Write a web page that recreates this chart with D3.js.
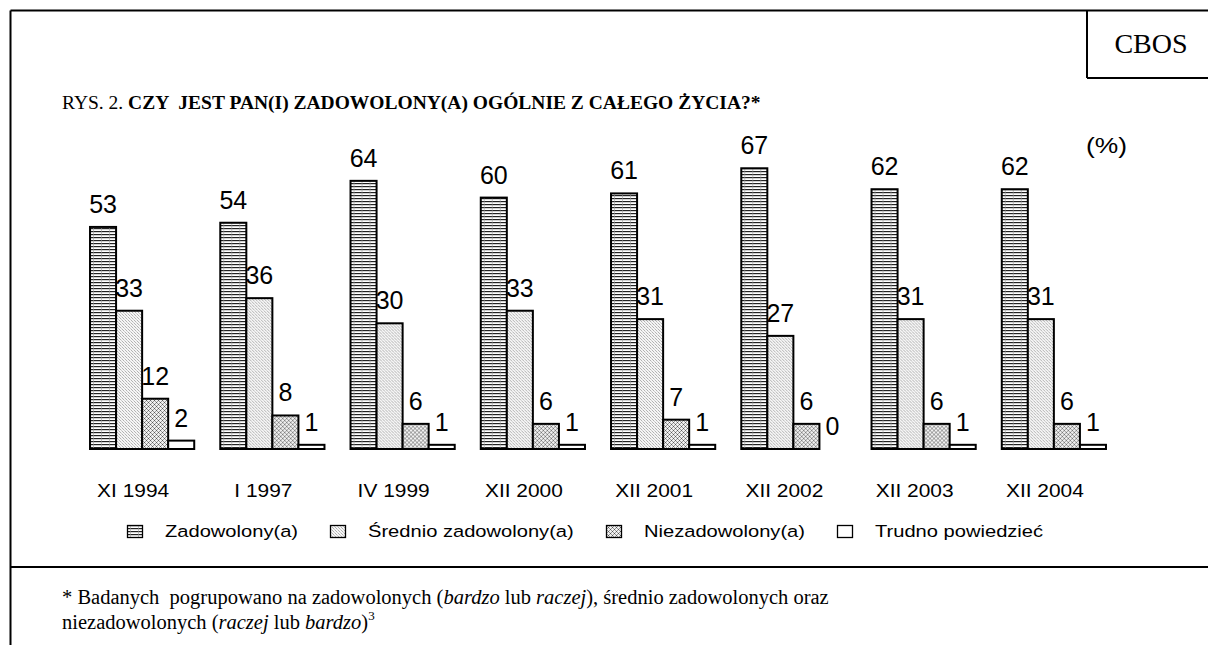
<!DOCTYPE html>
<html><head><meta charset="utf-8">
<script src="https://cdn.jsdelivr.net/npm/d3@7"></script>
<style>
html,body{margin:0;padding:0;background:#fff;}
svg{display:block;}
text{white-space:pre;}
</style></head>
<body>
<svg id="chart" width="1208" height="645"></svg>
<script>
const categories = ["XI 1994","I 1997","IV 1999","XII 2000","XII 2001","XII 2002","XII 2003","XII 2004"];
const seriesNames = ["Zadowolony(a)","Średnio zadowolony(a)","Niezadowolony(a)","Trudno powiedzieć"];
const zadowolony = [53,54,64,60,61,67,62,62];
const srednio = [33,36,30,33,31,27,31,31];
const niezadowolony = [12,8,6,6,7,6,6,6];
const trudno = [2,1,1,1,1,0,1,1];
const seriesValues = [zadowolony, srednio, niezadowolony, trudno];
const patternIds = ["pZad","pSr","pNz","pTr"];

const svg = d3.select("#chart");
const defs = svg.append("defs");

// pattern: horizontal lines
const p1 = defs.append("pattern").attr("id","pZad").attr("patternUnits","userSpaceOnUse").attr("width",8).attr("height",3);
p1.append("rect").attr("width",8).attr("height",3).attr("fill","#fff");
p1.append("rect").attr("x",0).attr("y",0).attr("width",8).attr("height",1.2).attr("fill","#222");
p1.append("rect").attr("x",3).attr("y",0).attr("width",0.6).attr("height",3).attr("fill","#999");
// pattern: light fine diagonal
const p2 = defs.append("pattern").attr("id","pSr").attr("patternUnits","userSpaceOnUse").attr("width",3).attr("height",3);
p2.append("rect").attr("width",3).attr("height",3).attr("fill","#f6f6f6");
p2.append("rect").attr("x",0).attr("y",0).attr("width",1).attr("height",1).attr("fill","#b0b0b0");
p2.append("rect").attr("x",1).attr("y",1).attr("width",1).attr("height",1).attr("fill","#cccccc");
p2.append("rect").attr("x",2).attr("y",2).attr("width",1).attr("height",1).attr("fill","#b0b0b0");
// pattern: crosshatch
const p3 = defs.append("pattern").attr("id","pNz").attr("patternUnits","userSpaceOnUse").attr("width",4).attr("height",4);
p3.append("rect").attr("width",4).attr("height",4).attr("fill","#f0f0f0");
[[0,0,"#555"],[2,2,"#555"],[1,1,"#999"],[3,1,"#999"],[1,3,"#999"],[3,3,"#999"]].forEach(([px,py,c])=>{
  p3.append("rect").attr("x",px).attr("y",py).attr("width",1).attr("height",1).attr("fill",c);
});
const p4 = defs.append("pattern").attr("id","pTr").attr("patternUnits","userSpaceOnUse").attr("width",4).attr("height",4);
p4.append("rect").attr("width",4).attr("height",4).attr("fill","#fff");

// frame
const frame = svg.append("g").attr("stroke","#000").attr("stroke-width",2).attr("fill","none");
frame.append("line").attr("x1",10.5).attr("y1",10.5).attr("x2",1208).attr("y2",10.5);
frame.append("line").attr("x1",10.5).attr("y1",10.5).attr("x2",10.5).attr("y2",645);
frame.append("line").attr("x1",1087).attr("y1",10.5).attr("x2",1087).attr("y2",78);
frame.append("line").attr("x1",1087).attr("y1",78).attr("x2",1208).attr("y2",78);
frame.append("line").attr("x1",10.5).attr("y1",567).attr("x2",1208).attr("y2",567);

svg.append("text").attr("x",1151).attr("y",53).attr("text-anchor","middle")
  .attr("font-family","Liberation Serif").attr("font-size",28).text("CBOS");

const title = svg.append("text").attr("x",62).attr("y",109)
  .attr("font-family","Liberation Serif").attr("font-size",19.5);
title.append("tspan").text("RYS. 2. ");
title.append("tspan").attr("font-weight","bold").text("CZY  JEST PAN(I) ZADOWOLONY(A) OGÓLNIE Z CAŁEGO ŻYCIA?*");

svg.append("text").attr("transform","translate(1086,153) scale(1.2,1)")
  .attr("font-family","Liberation Sans").attr("font-size",22).text("(%)");

// scales
const x0 = d3.scaleBand().domain(categories).range([77,1119]).paddingInner(0.2).paddingOuter(0.1);
const x1 = d3.scaleBand().domain(d3.range(4)).range([0,x0.bandwidth()]).padding(0);
const y = d3.scaleLinear().domain([0,100]).range([449,30]);

const groups = svg.append("g").selectAll("g").data(categories).join("g")
  .attr("transform",c=>`translate(${x0(c)},0)`);

groups.each(function(c,ci){
  const g = d3.select(this);
  seriesValues.forEach((vals,si)=>{
    const v = vals[ci];
    g.append("rect").attr("x",x1(si)).attr("y",y(v)).attr("width",x1.bandwidth())
      .attr("height",Math.max(0,y(0)-y(v)))
      .attr("fill",`url(#${patternIds[si]})`).attr("stroke","#000").attr("stroke-width",2);
    g.append("text").attr("x",x1(si)+x1.bandwidth()/2).attr("y",y(v)-14)
      .attr("text-anchor","middle").attr("font-family","Liberation Sans").attr("font-size",25)
      .text(v);
  });
});

// category labels
svg.append("g").selectAll("text").data(categories).join("text")
  .attr("transform",c=>`translate(${x0(c)+x0.bandwidth()/2-9},497) scale(1.1,1)`)
  .attr("text-anchor","middle").attr("font-family","Liberation Sans").attr("font-size",19)
  .text(c=>c);

// legend
const legX = [127,330,606,837];
const leg = svg.append("g").selectAll("g").data(seriesNames).join("g")
  .attr("transform",(d,i)=>`translate(${legX[i]},525)`);
leg.append("rect").attr("x",0.5).attr("y",0.5).attr("width",15).attr("height",12)
  .attr("fill",(d,i)=>`url(#${patternIds[i]})`).attr("stroke","#000").attr("stroke-width",1.3);
leg.append("text").attr("transform","translate(38,12) scale(1.22,1)")
  .attr("font-family","Liberation Sans").attr("font-size",16.5)
  .text(d=>d);

// footnote
const f1 = svg.append("text").attr("x",62).attr("y",604).attr("font-family","Liberation Serif").attr("font-size",20.5);
f1.append("tspan").text("* Badanych  pogrupowano na zadowolonych (");
f1.append("tspan").attr("font-style","italic").text("bardzo");
f1.append("tspan").text(" lub ");
f1.append("tspan").attr("font-style","italic").text("raczej");
f1.append("tspan").text("), średnio zadowolonych oraz");
const f2 = svg.append("text").attr("x",62).attr("y",629).attr("font-family","Liberation Serif").attr("font-size",20.5);
f2.append("tspan").text("niezadowolonych (");
f2.append("tspan").attr("font-style","italic").text("raczej");
f2.append("tspan").text(" lub ");
f2.append("tspan").attr("font-style","italic").text("bardzo");
f2.append("tspan").text(")");
f2.append("tspan").attr("font-size",13).attr("dy",-9).text("3");
</script>
</body></html>
